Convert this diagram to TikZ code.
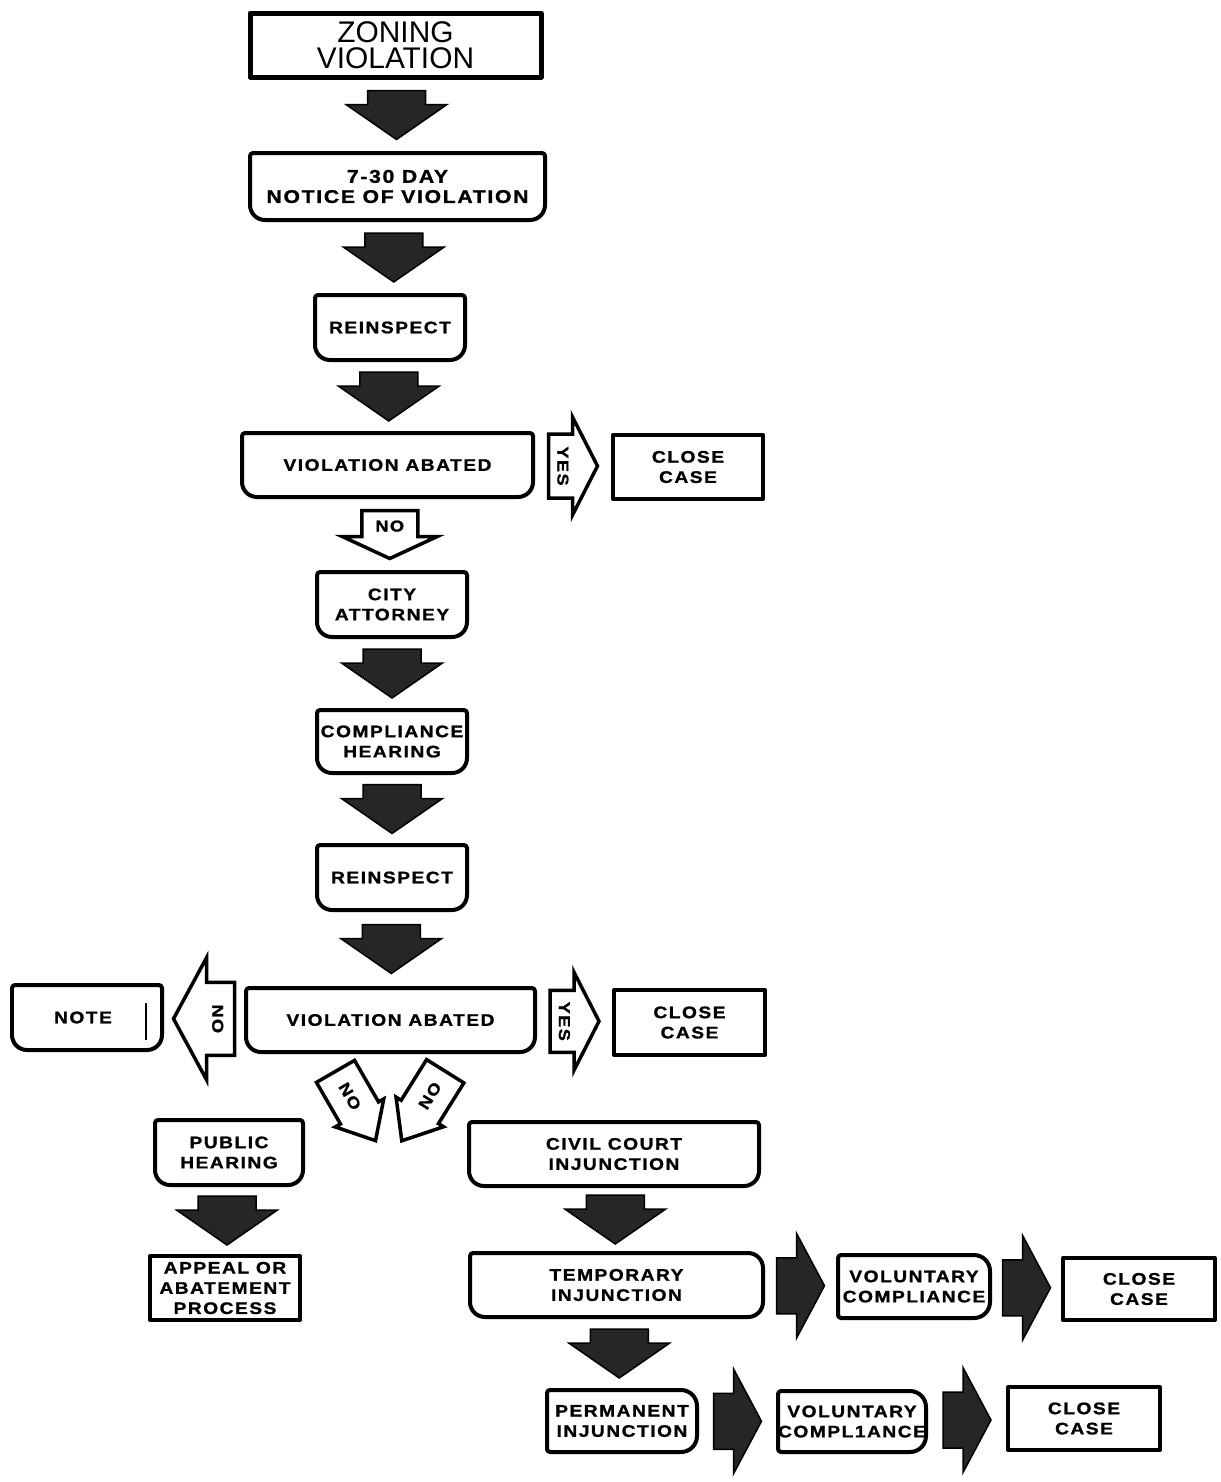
\documentclass[tikz,border=0pt]{standalone}
\usepackage{fontspec}
\setmainfont{Liberation Sans}
\newfontfamily\boxfont{Liberation Sans}[LetterSpace=9, FakeStretch=1.15, FakeBold=1.2]
\usetikzlibrary{positioning}
\usetikzlibrary{calc}

% one pixel of the sheet
\def\px{0.02cm}

% box outline: node, radius top left, top right, bottom right, bottom left (in pixels)
\newcommand{\outlinebox}[5]{%
  \draw[frame] ([xshift=#2*\px]#1.north west) -- ([xshift=-#3*\px]#1.north east)
    arc[start angle=90, end angle=0, radius=#3*\px] -- ([yshift=#4*\px]#1.south east)
    arc[start angle=0, end angle=-90, radius=#4*\px] -- ([xshift=#5*\px]#1.south west)
    arc[start angle=270, end angle=180, radius=#5*\px] -- ([yshift=-#2*\px]#1.north west)
    arc[start angle=180, end angle=90, radius=#2*\px] -- cycle;}

% block arrow: style, centre, angle, length, shaft length, shaft width, head width
\newcommand{\solidarrow}[7]{%
  \draw[#1, shift={(#2)}, rotate=#3]
    ({-#4/2},{-#6/2}) -- ({-#4/2+#5},{-#6/2}) -- ({-#4/2+#5},{-#7/2}) -- ({#4/2},0)
    -- ({-#4/2+#5},{#7/2}) -- ({-#4/2+#5},{#6/2}) -- ({-#4/2},{#6/2}) -- cycle;}

% open arrow with a word in it: centre, angle, length, shaft length, shaft width, head width, word, word angle
\newcommand{\openarrow}[8]{%
  \solidarrow{hollow}{#1}{#2}{#3}{#4}{#5}{#6}
  \path[shift={(#1)}, rotate=#2] ({-#3/2+#4*0.6},0) node[lbl, rotate=#8] {#7};}

\begin{document}
\begin{tikzpicture}[x=0.02cm, y=0.02cm]
    \tikzstyle{box} = [draw=none, outer sep=0pt, inner sep=0pt, align=center,
        font=\boxfont\bfseries\fontsize{9.5}{11.5}\selectfont]
    \tikzstyle{frame} = [draw=black, line width=0.08cm, line join=round]
    \tikzstyle{dark} = [draw=black, fill=black!85, line width=0.03cm]
    \tikzstyle{hollow} = [draw=black, fill=white, line width=0.07cm, line join=miter]
    \tikzstyle{lbl} = [inner sep=0pt, font=\boxfont\bfseries\fontsize{9}{10}\selectfont]

    \useasboundingbox (0,0) rectangle (1221,-1482);

    % main column
    \node[box, minimum width=291*\px, minimum height=64*\px,
          font=\fontsize{17}{15}\selectfont] (zv) at (395.5,-45) {ZONING\\VIOLATION};
    \node[box, minimum width=295*\px, minimum height=67*\px,
          font=\boxfont\bfseries\fontsize{10.5}{11.5}\selectfont] (nv) at (397.5,-186.5) {7-30 DAY\\NOTICE OF VIOLATION};
    \node[box, minimum width=150*\px, minimum height=65*\px] (ri1) at (390,-327.5) {REINSPECT};
    \node[box, minimum width=291*\px, minimum height=64*\px] (ab1) at (387.5,-465) {VIOLATION ABATED};
    \node[box, minimum width=150*\px, minimum height=64*\px] (cc1) at (688,-467) {CLOSE\\CASE};
    \node[box, minimum width=150*\px, minimum height=65*\px] (ca) at (392,-604.5) {CITY\\ATTORNEY};
    \node[box, minimum width=150*\px, minimum height=63*\px] (ch) at (392,-741.5) {COMPLIANCE\\HEARING};
    \node[box, minimum width=150*\px, minimum height=65*\px] (ri2) at (392,-877.5) {REINSPECT};
    \node[box, minimum width=289*\px, minimum height=64*\px] (ab2) at (390.5,-1020) {VIOLATION ABATED};
    \node[box, minimum width=150*\px, minimum height=65*\px] (nt) at (87,-1017.5) {NOTE\hspace{0.16cm}};
    \node[box, minimum width=151*\px, minimum height=65*\px] (cc2) at (689.5,-1022.5) {CLOSE\\CASE};

    % lower branches
    \node[box, minimum width=148*\px, minimum height=65*\px] (ph) at (229,-1152.5) {PUBLIC\\HEARING};
    \node[box, minimum width=150*\px, minimum height=64*\px] (ap) at (225,-1288) {APPEAL OR\\ABATEMENT\\PROCESS};
    \node[box, minimum width=290*\px, minimum height=64*\px] (cv) at (614,-1154) {CIVIL COURT\\INJUNCTION};
    \node[box, minimum width=293*\px, minimum height=64*\px] (ti) at (616.5,-1285) {TEMPORARY\\INJUNCTION};
    \node[box, minimum width=152*\px, minimum height=63*\px] (vc1) at (914,-1286.5) {VOLUNTARY\\COMPLIANCE};
    \node[box, minimum width=152*\px, minimum height=62*\px] (cc3) at (1139,-1289) {CLOSE\\CASE};
    \node[box, minimum width=150*\px, minimum height=62*\px] (pi) at (622,-1421) {PERMANENT\\INJUNCTION};
    \node[box, minimum width=148*\px, minimum height=61*\px] (vc2) at (852,-1421.5) {VOLUNTARY\\COMPL1ANCE};
    \node[box, minimum width=152*\px, minimum height=63*\px] (cc4) at (1084,-1418.5) {CLOSE\\CASE};

    % outlines
    \draw[frame, line width=0.1cm] (zv.north west) rectangle (zv.south east);
    \foreach \n in {cc1, cc2, cc3, cc4, ap} {
        \draw[frame] (\n.north west) rectangle (\n.south east);
    }
    \foreach \n in {nv, ri1, ab1, ca, ch, ri2, ab2, nt, ph, cv} {
        \outlinebox{\n}{3}{3}{15}{15}
    }
    \outlinebox{ti}{3}{15}{15}{15}
    \foreach \n in {pi, vc1, vc2} {
        \outlinebox{\n}{3}{16}{16}{3}
    }
    \draw[frame, line width=0.05cm] ([xshift=-16*\px, yshift=-18*\px]nt.north east)
        -- ([xshift=-16*\px, yshift=10*\px]nt.south east);

    % solid arrows
    \foreach \a/\b in {zv/nv, nv/ri1, ri1/ab1, ca/ch, ch/ri2, ri2/ab2, ph/ap, cv/ti, ti/pi} {
        \solidarrow{dark}{$(\a.south)!0.5!(\b.north)$}{-90}{49}{14}{58}{101}
    }
    \foreach \a/\b in {ti/vc1, vc1/cc3, pi/vc2, vc2/cc4} {
        \solidarrow{dark}{$(\a.east)!0.5!(\b.west)$}{0}{48}{20}{56}{105}
    }

    % yes / no arrows
    \openarrow{$(ab1.east)!0.5!(cc1.west)$}{0}{49}{24}{64}{98}{YES}{-90}
    \openarrow{$(ab2.east)!0.5!(cc2.west)$}{0}{49}{24}{62}{98}{YES}{-90}
    \openarrow{$(ab1.south)!0.5!(ca.north)$}{-90}{48}{26}{56}{95}{NO}{0}
    \openarrow{$(ab2.west)!0.5!(nt.east)$}{180}{61}{28}{73}{122}{NO}{-90}
    \openarrow{$(ab2.south)+(-35,-54)$}{-60}{80}{48}{44}{56}{NO}{-60}
    \openarrow{$(ab2.south)+(33,-54)$}{-122}{82}{48}{44}{56}{NO}{58}

\end{tikzpicture}
\end{document}
